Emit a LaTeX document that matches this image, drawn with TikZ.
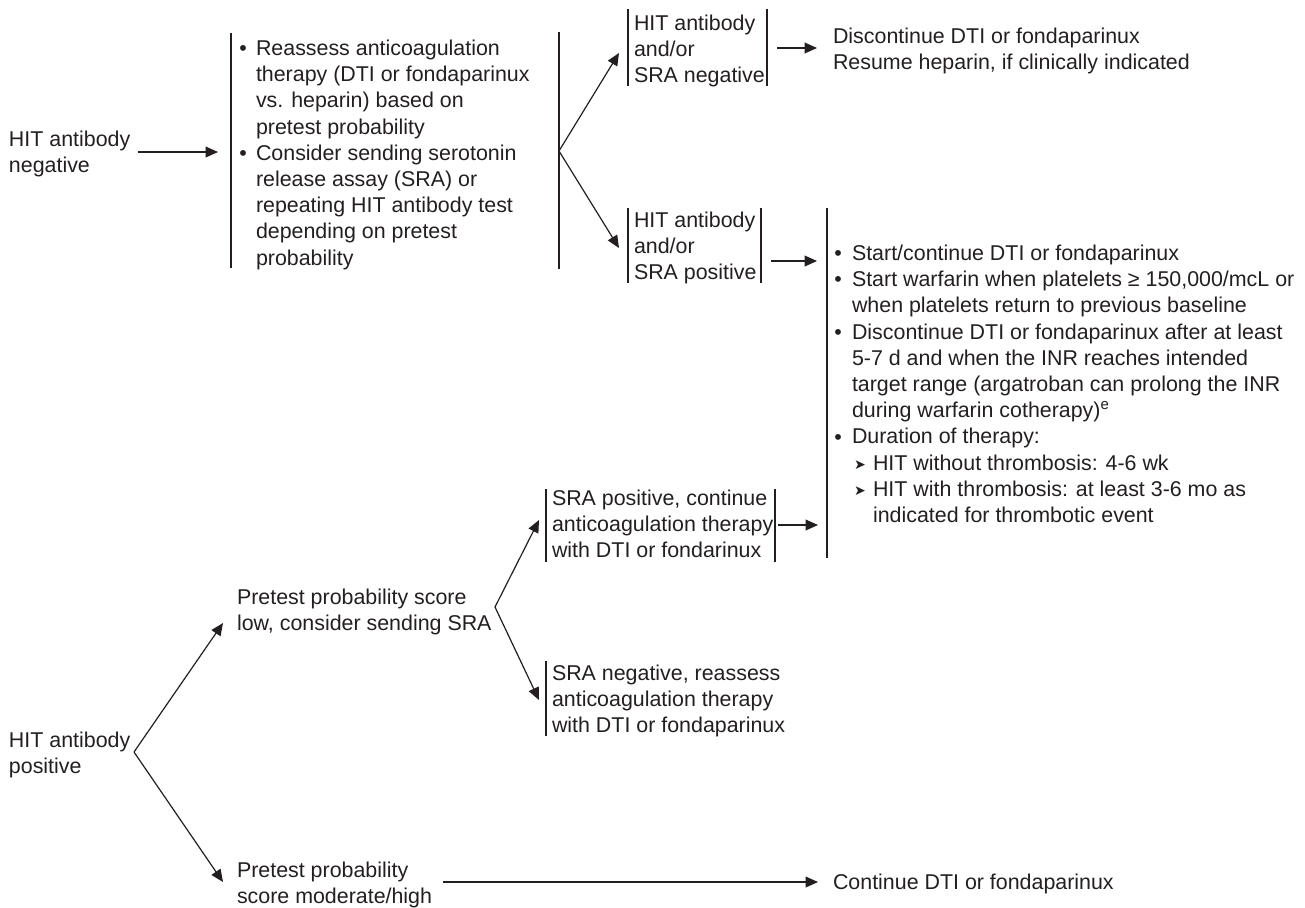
\documentclass[tikz,border=0pt]{standalone}
\usepackage{fontspec}
\setmainfont{Liberation Sans}
\newfontfamily\dejavu{DejaVu Sans}
\usetikzlibrary{arrows.meta}
\definecolor{ink}{HTML}{231F20}
\begin{document}
\begin{tikzpicture}[x=0.5pt,y=-0.5pt,
  txt/.style={anchor=north west,inner sep=0pt,outer sep=0pt,align=left,text=ink,
    font=\fontsize{10.7pt}{13.1pt}\selectfont},
  dot/.style={anchor=base,inner sep=0pt,text=ink,font=\fontsize{10.7pt}{13.1pt}\selectfont},
  subdot/.style={anchor=base,inner sep=0pt,text=ink,font=\dejavu\fontsize{7pt}{8pt}\selectfont},
  bar/.style={draw=ink,line width=0.55pt},
  arr/.style={draw=ink,line width=0.6pt,-{Triangle[length=6.2pt,width=5.4pt]}}]
\useasboundingbox (0,0) rectangle (1305,907);

% ---------- top branch: HIT antibody negative ----------
\node[txt] (neg) at (9,131) {HIT antibody\\negative};
\coordinate (negA) at (137.5,152);
\coordinate (l1L) at (218,152);
\coordinate (l1top) at (231,33);
\coordinate (l1bot) at (231,268);
\draw[bar] (l1top) -- (l1bot);
\node[dot] (l1d1) at (243,55.7) {•};
\node[txt] (l1t1) at (256,40) {Reassess anticoagulation\\therapy (DTI or fondaparinux\\vs. heparin) based on\\pretest probability};
\node[dot] (l1d2) at (243,160.5) {•};
\node[txt] (l1t2) at (256,144.8) {Consider sending serotonin\\release assay (SRA) or\\repeating HIT antibody test\\depending on pretest\\probability};
\coordinate (l1rtop) at (559,32);
\coordinate (l1rbot) at (559,269);
\draw[bar] (l1rtop) -- (l1rbot);
\coordinate (fork1) at (559,151);
\draw[arr] (negA) -- (l1L);

% box: HIT antibody and/or SRA negative
\node[txt] (bneg) at (634,15) {HIT antibody\\and/or\\SRA negative};
\coordinate (bnegLt) at (628,9);   \coordinate (bnegLb) at (628,86);
\coordinate (bnegRt) at (767,9);   \coordinate (bnegRb) at (767,86);
\draw[bar] (bnegLt) -- (bnegLb);
\draw[bar] (bnegRt) -- (bnegRb);
\coordinate (bnegIn) at (619,53);
\draw[arr] (fork1) -- (bnegIn);

\node[txt] (disc) at (833,28) {Discontinue DTI or fondaparinux\\Resume heparin, if clinically indicated};
\coordinate (bnegOut) at (777,48);
\coordinate (discIn) at (817,48);
\draw[arr] (bnegOut) -- (discIn);

% box: HIT antibody and/or SRA positive
\node[txt] (bpos) at (634,212) {HIT antibody\\and/or\\SRA positive};
\coordinate (bposLt) at (628,208);  \coordinate (bposLb) at (628,283);
\coordinate (bposRt) at (761,208);  \coordinate (bposRb) at (761,283);
\draw[bar] (bposLt) -- (bposLb);
\draw[bar] (bposRt) -- (bposRb);
\coordinate (bposIn) at (619,248);
\draw[arr] (fork1) -- (bposIn);

% big list
\coordinate (bigtop) at (827,208);
\coordinate (bigbot) at (827,558);
\draw[bar] (bigtop) -- (bigbot);
\coordinate (bposOut) at (771,261);
\coordinate (bigIn1) at (817,261);
\draw[arr] (bposOut) -- (bigIn1);

\node[dot] (bd1) at (838,260.7) {•};
\node[txt] (bt1) at (852,245) {Start/continue DTI or fondaparinux};
\node[dot] (bd2) at (838,286.9) {•};
\node[txt] (bt2) at (852,271.2) {Start warfarin when platelets ≥ 150,000/mcL or\\when platelets return to previous baseline};
\node[dot] (bd3) at (838,339.3) {•};
\node[txt] (bt3) at (852,323.6) {Discontinue DTI or fondaparinux after at least\\5-7 d and when the INR reaches intended\\target range (argatroban can prolong the INR\\during warfarin cotherapy)\textsuperscript{e}};
\node[dot] (bd4) at (838,444.1) {•};
\node[txt] (bt4) at (852,428.4) {Duration of therapy:};
\node[subdot] (sd1) at (860,469.5) {➤};
\node[txt] (st1) at (873,454.6) {HIT without thrombosis: 4-6 wk};
\node[subdot] (sd2) at (860,495.7) {➤};
\node[txt] (st2) at (873,480.8) {HIT with thrombosis: at least 3-6 mo as\\indicated for thrombotic event};

% ---------- bottom branch: HIT antibody positive ----------
\node[txt] (hpos) at (9,732) {HIT antibody\\positive};
\coordinate (fork2) at (134,752);
\coordinate (lowIn) at (223,623);
\coordinate (modIn) at (223,882);
\draw[arr] (fork2) -- (lowIn);
\draw[arr] (fork2) -- (modIn);

\node[txt] (low) at (237,589) {Pretest probability score\\low, consider sending SRA};
\coordinate (fork3) at (495,607);
\coordinate (sposIn) at (539,520);
\coordinate (snegIn) at (539,700);
\draw[arr] (fork3) -- (sposIn);
\draw[arr] (fork3) -- (snegIn);

\node[txt] (spos) at (552,490) {SRA positive, continue\\anticoagulation therapy\\with DTI or fondarinux};
\coordinate (sposLt) at (546,489);  \coordinate (sposLb) at (546,562);
\coordinate (sposRt) at (775,489);  \coordinate (sposRb) at (775,562);
\draw[bar] (sposLt) -- (sposLb);
\draw[bar] (sposRt) -- (sposRb);
\coordinate (sposOut) at (778,525);
\coordinate (bigIn2) at (818,525);
\draw[arr] (sposOut) -- (bigIn2);

\node[txt] (sneg) at (552,665) {SRA negative, reassess\\anticoagulation therapy\\with DTI or fondaparinux};
\coordinate (snegLt) at (546,661);  \coordinate (snegLb) at (546,736);
\draw[bar] (snegLt) -- (snegLb);

\node[txt] (mod) at (237,862) {Pretest probability\\score moderate/high};
\coordinate (modOut) at (443,882);
\coordinate (contIn) at (818,882);
\draw[arr] (modOut) -- (contIn);
\node[txt] (cont) at (833,874) {Continue DTI or fondaparinux};
\end{tikzpicture}
\end{document}
